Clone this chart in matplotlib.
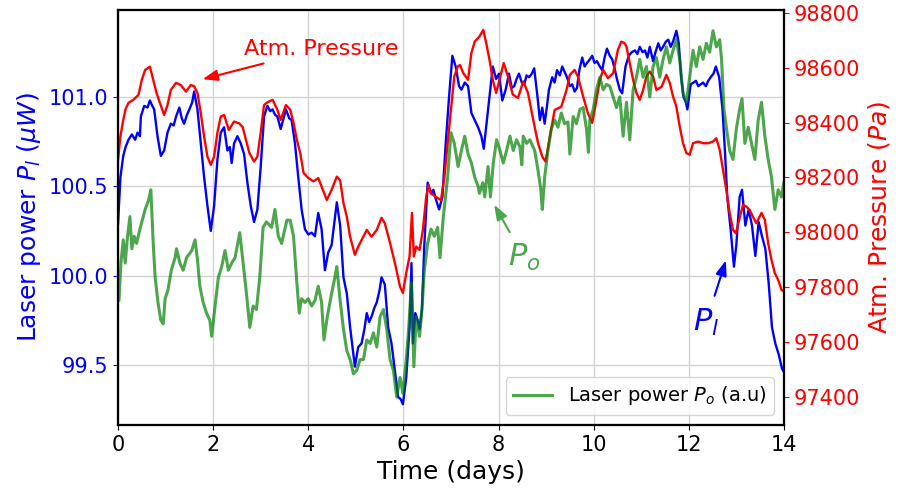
import numpy as np
import matplotlib
matplotlib.use("Agg")
import matplotlib.pyplot as plt

# laser power P_l (uW), left axis: (day, value)
p_l = [(0.00,100.29),(0.05,100.55),(0.11,100.67),(0.16,100.72),(0.22,100.76),(0.29,100.79),(0.36,100.76),(0.41,100.80),
       (0.46,100.78),(0.48,100.89),(0.55,100.95),(0.62,100.94),(0.67,100.98),(0.72,100.95),(0.76,100.93),(0.83,100.78),
       (0.90,100.67),(0.97,100.70),(1.04,100.80),(1.11,100.85),(1.17,100.84),(1.22,100.89),(1.29,100.94),(1.34,100.88),
       (1.39,100.85),(1.45,100.90),(1.50,100.93),(1.56,100.97),(1.60,101.03),(1.67,100.93),(1.74,100.74),(1.81,100.55),
       (1.88,100.39),(1.95,100.25),(2.02,100.39),(2.09,100.65),(2.16,100.80),(2.23,100.83),(2.30,100.70),(2.35,100.72),
       (2.39,100.63),(2.44,100.74),(2.51,100.78),(2.58,100.74),(2.65,100.68),(2.72,100.52),(2.79,100.39),(2.86,100.30),
       (2.93,100.37),(3.00,100.61),(3.07,100.89),(3.14,100.95),(3.20,100.92),(3.25,100.93),(3.30,100.90),(3.35,100.89),
       (3.42,100.82),(3.48,100.88),(3.53,100.93),(3.60,100.88),(3.65,100.87),(3.72,100.74),(3.79,100.55),(3.86,100.37),
       (3.93,100.26),(4.00,100.23),(4.07,100.24),(4.14,100.22),(4.21,100.35),(4.28,100.26),(4.35,100.03),(4.42,100.13),
       (4.49,100.17),(4.55,100.30),(4.60,100.41),(4.67,100.28),(4.74,99.99),(4.81,99.90),(4.88,99.71),(4.98,99.49),
       (5.05,99.60),(5.12,99.62),(5.18,99.70),(5.23,99.79),(5.28,99.74),(5.33,99.77),(5.39,99.82),(5.44,99.85),
       (5.50,99.92),(5.54,99.99),(5.61,99.95),(5.68,99.71),(5.75,99.62),(5.82,99.47),(5.89,99.32),(5.94,99.31),
       (5.99,99.28),(6.06,99.43),(6.13,99.71),(6.17,100.07),(6.20,99.62),(6.25,99.79),(6.30,99.75),(6.34,99.70),
       (6.39,99.81),(6.44,100.17),(6.51,100.52),(6.58,100.46),(6.63,100.48),(6.68,100.43),(6.75,100.37),(6.82,100.44),
       (6.89,100.74),(6.96,101.00),(7.03,101.23),(7.10,101.17),(7.17,101.06),(7.22,101.04),(7.29,101.08),(7.36,101.06),
       (7.43,100.91),(7.50,100.87),(7.57,100.83),(7.64,100.78),(7.69,100.71),(7.74,100.83),(7.81,101.00),(7.88,101.17),
       (7.95,101.10),(8.01,101.13),(8.08,100.98),(8.15,101.04),(8.22,101.13),(8.28,101.05),(8.33,101.06),(8.38,101.10),
       (8.43,101.13),(8.49,101.08),(8.54,101.07),(8.59,101.12),(8.64,101.11),(8.70,101.13),(8.75,101.16),(8.82,101.00),
       (8.87,100.87),(8.92,100.94),(8.97,100.85),(9.02,100.95),(9.06,101.04),(9.13,101.11),(9.18,101.08),(9.23,101.15),
       (9.29,101.12),(9.34,101.17),(9.39,101.14),(9.44,101.11),(9.50,101.06),(9.55,101.07),(9.60,101.03),(9.65,101.05),
       (9.70,101.15),(9.76,101.22),(9.81,101.17),(9.86,101.19),(9.92,101.21),(9.97,101.23),(10.02,101.19),(10.07,101.20),
       (10.13,101.17),(10.18,101.15),(10.23,101.22),(10.28,101.27),(10.34,101.23),(10.39,101.21),(10.44,101.16),(10.49,101.10),
       (10.55,101.04),(10.60,101.02),(10.67,101.17),(10.74,101.23),(10.80,101.25),(10.87,101.26),(10.92,101.24),(10.97,101.28),
       (11.03,101.25),(11.08,101.26),(11.13,101.22),(11.18,101.28),(11.25,101.20),(11.30,101.25),(11.36,101.30),(11.41,101.26),
       (11.46,101.28),(11.52,101.31),(11.57,101.32),(11.62,101.28),(11.67,101.31),(11.74,101.37),(11.79,101.30),(11.84,101.11),
       (11.89,101.00),(11.94,100.97),(11.97,100.93),(12.04,101.07),(12.10,101.08),(12.15,101.09),(12.20,101.06),(12.25,101.07),
       (12.30,101.08),(12.36,101.06),(12.41,101.09),(12.46,101.11),(12.52,101.13),(12.57,101.17),(12.64,101.11),(12.71,100.93),
       (12.76,100.70),(12.81,100.44),(12.88,100.26),(12.95,100.05),(13.00,100.17),(13.07,100.44),(13.12,100.48),(13.19,100.28),
       (13.26,100.37),(13.33,100.28),(13.40,100.11),(13.47,100.30),(13.54,100.22),(13.61,100.15),(13.68,99.96),(13.75,99.71),
       (13.82,99.62),(13.89,99.56),(13.96,99.48),(14.00,99.46)]

# atmospheric pressure (Pa), right axis
pressure = [(0.00,98264),(0.05,98350),(0.11,98410),(0.16,98450),(0.22,98472),(0.32,98483),(0.43,98501),(0.50,98556),
            (0.57,98592),(0.67,98604),(0.74,98556),(0.81,98508),(0.88,98472),(0.97,98428),(1.04,98464),(1.11,98519),
            (1.22,98545),(1.32,98537),(1.43,98513),(1.53,98537),(1.60,98533),(1.67,98508),(1.74,98435),(1.81,98349),
            (1.88,98276),(1.95,98246),(2.02,98276),(2.09,98364),(2.16,98422),(2.23,98428),(2.33,98373),(2.44,98404),
            (2.55,98397),(2.62,98384),(2.69,98337),(2.76,98290),(2.86,98258),(2.93,98276),(3.00,98364),(3.07,98464),
            (3.14,98474),(3.25,98483),(3.35,98447),(3.42,98410),(3.53,98464),(3.62,98447),(3.69,98399),(3.76,98337),
            (3.83,98290),(3.90,98217),(4.00,98198),(4.11,98186),(4.21,98198),(4.28,98167),(4.39,98118),(4.49,98155),
            (4.60,98203),(4.67,98190),(4.74,98107),(4.81,98057),(4.88,97984),(4.98,97918),(5.05,97948),(5.12,97972),
            (5.23,98009),(5.33,97984),(5.44,98009),(5.54,98053),(5.61,98033),(5.72,97961),(5.82,97889),(5.93,97802),
            (5.99,97779),(6.06,97852),(6.13,97913),(6.18,98071),(6.22,97912),(6.27,97948),(6.34,97936),(6.41,98009),
            (6.48,98130),(6.53,98172),(6.58,98142),(6.68,98130),(6.79,98117),(6.86,98198),(6.93,98326),(7.00,98446),
            (7.07,98568),(7.14,98604),(7.19,98610),(7.26,98580),(7.36,98556),(7.43,98654),(7.50,98695),(7.60,98714),
            (7.68,98738),(7.75,98683),(7.81,98629),(7.88,98556),(7.95,98508),(8.02,98556),(8.11,98617),(8.20,98568),
            (8.30,98502),(8.41,98490),(8.52,98550),(8.62,98508),(8.73,98410),(8.83,98326),(8.92,98276),(8.99,98258),
            (9.08,98349),(9.18,98446),(9.32,98458),(9.43,98519),(9.50,98574),(9.60,98592),(9.67,98568),(9.78,98495),
            (9.88,98434),(9.97,98399),(10.06,98483),(10.13,98556),(10.20,98592),(10.30,98562),(10.41,98580),(10.51,98665),
            (10.58,98695),(10.65,98690),(10.69,98677),(10.76,98617),(10.83,98556),(10.90,98508),(10.97,98483),(11.04,98519),
            (11.11,98568),(11.18,98586),(11.25,98568),(11.32,98519),(11.43,98531),(11.53,98574),(11.60,98545),(11.67,98495),
            (11.74,98458),(11.81,98386),(11.88,98325),(11.95,98289),(12.02,98283),(12.09,98325),(12.20,98331),(12.30,98325),
            (12.41,98325),(12.51,98331),(12.58,98343),(12.65,98301),(12.72,98228),(12.79,98155),(12.86,98071),(12.93,98009),
            (12.99,97997),(13.06,98045),(13.14,98100),(13.21,98094),(13.28,98082),(13.35,98057),(13.42,98033),(13.53,98071),
            (13.60,98045),(13.67,97960),(13.74,97900),(13.81,97851),(13.88,97827),(13.95,97790),(14.00,97785)]

# laser power P_o (a.u), drawn on the left scale
p_o = [(0.00,99.86),(0.02,99.86),(0.06,100.07),(0.11,100.20),(0.15,100.07),(0.20,100.22),(0.25,100.33),(0.29,100.15),
       (0.34,100.22),(0.39,100.18),(0.46,100.26),(0.50,100.30),(0.57,100.37),(0.64,100.42),(0.69,100.48),(0.74,100.18),
       (0.78,99.99),(0.84,99.85),(0.90,99.75),(0.95,99.73),(0.99,99.87),(1.05,99.92),(1.12,100.03),(1.20,100.10),
       (1.23,100.15),(1.30,100.07),(1.37,100.03),(1.44,100.10),(1.55,100.14),(1.62,100.20),(1.67,100.09),(1.72,99.94),
       (1.79,99.85),(1.86,99.79),(1.93,99.75),(1.97,99.66),(2.04,99.83),(2.11,99.99),(2.18,100.05),(2.25,100.14),
       (2.32,100.03),(2.39,100.07),(2.46,100.10),(2.56,100.24),(2.63,100.07),(2.70,99.90),(2.77,99.71),(2.84,99.83),
       (2.91,99.81),(2.98,99.99),(3.05,100.27),(3.12,100.30),(3.23,100.27),(3.30,100.37),(3.37,100.22),(3.44,100.18),
       (3.55,100.31),(3.62,100.31),(3.69,100.22),(3.76,99.96),(3.81,99.79),(3.86,99.87),(3.93,99.85),(4.00,99.87),
       (4.07,99.83),(4.14,99.86),(4.21,99.94),(4.28,99.85),(4.33,99.64),(4.40,99.77),(4.49,99.90),(4.56,99.99),
       (4.60,100.05),(4.67,99.86),(4.74,99.70),(4.81,99.58),(4.88,99.53),(4.95,99.45),(5.02,99.47),(5.09,99.53),
       (5.16,99.53),(5.23,99.64),(5.30,99.62),(5.37,99.68),(5.44,99.60),(5.51,99.77),(5.58,99.81),(5.65,99.70),
       (5.72,99.53),(5.79,99.47),(5.86,99.32),(5.93,99.43),(5.99,99.34),(6.06,99.53),(6.11,99.70),(6.17,99.96),
       (6.22,99.49),(6.27,99.77),(6.34,99.66),(6.39,99.81),(6.44,100.03),(6.51,100.18),(6.58,100.26),(6.65,100.22),
       (6.72,100.27),(6.77,100.10),(6.84,100.33),(6.93,100.55),(7.00,100.80),(7.07,100.74),(7.15,100.61),(7.22,100.70),
       (7.29,100.78),(7.36,100.68),(7.43,100.63),(7.50,100.55),(7.57,100.50),(7.60,100.46),(7.67,100.52),(7.71,100.44),
       (7.78,100.61),(7.83,100.44),(7.89,100.63),(7.96,100.76),(8.03,100.70),(8.10,100.63),(8.17,100.70),(8.24,100.78),
       (8.31,100.70),(8.38,100.76),(8.45,100.72),(8.49,100.62),(8.52,100.78),(8.59,100.74),(8.66,100.76),(8.76,100.70),
       (8.83,100.59),(8.89,100.48),(8.92,100.37),(8.97,100.55),(9.04,100.70),(9.11,100.82),(9.18,100.87),(9.25,100.83),
       (9.32,100.91),(9.39,100.85),(9.46,100.86),(9.50,100.68),(9.57,100.89),(9.64,100.85),(9.71,100.93),(9.78,100.94),
       (9.85,100.82),(9.89,100.69),(9.92,100.87),(9.99,100.93),(10.06,101.04),(10.13,101.11),(10.20,101.04),(10.27,101.07),
       (10.34,101.06),(10.41,101.00),(10.48,100.94),(10.55,101.00),(10.62,100.78),(10.69,100.97),(10.76,100.76),(10.83,101.04),
       (10.90,101.11),(10.97,101.21),(11.04,101.11),(11.11,101.17),(11.18,101.00),(11.25,101.17),(11.32,101.22),(11.39,101.11),
       (11.46,101.21),(11.53,101.28),(11.60,101.19),(11.67,101.26),(11.74,101.32),(11.81,101.21),(11.88,101.02),(11.95,100.97),
       (12.02,101.11),(12.09,101.26),(12.16,101.17),(12.23,101.28),(12.30,101.21),(12.37,101.30),(12.44,101.25),(12.51,101.37),
       (12.58,101.28),(12.65,101.32),(12.69,101.21),(12.74,100.93),(12.79,100.83),(12.86,100.70),(12.93,100.65),(13.00,100.82),
       (13.07,100.93),(13.12,100.99),(13.18,100.74),(13.25,100.83),(13.32,100.74),(13.39,100.65),(13.46,100.87),(13.53,100.97),
       (13.60,100.78),(13.67,100.65),(13.74,100.55),(13.81,100.37),(13.88,100.48),(13.95,100.44),(14.00,100.52)]

left_ticks = [99.5, 100.0, 100.5, 101.0]
right_ticks = [97400, 97600, 97800, 98000, 98200, 98400, 98600, 98800]

t_l, v_l = np.array(p_l).T
t_p, v_p = np.array(pressure).T
t_o, v_o = np.array(p_o).T

fig = plt.figure(figsize=(9.01, 4.93), dpi=100)
ax1 = fig.add_axes([0.131, 0.138, 0.739, 0.842])
ax1.plot(t_l, v_l, color='blue', lw=1.7)
ax1.set_xlim(0, 14)
ax1.set_ylim(99.164, 101.487)
ax1.set_yticks(left_ticks)
ax1.set_xticks(range(0, 15, 2))
ax1.grid(True, color='#d3d3d3', lw=1)
ax1.set_axisbelow(True)
ax1.tick_params(labelsize=15)
ax1.tick_params(axis='y', colors='blue')
ax1.set_xlabel('Time (days)', fontsize=18)
ax1.set_ylabel(r'Laser power $P_l$ ($\mu W$)', fontsize=18, color='blue')

ax2 = ax1.twinx()
ax2.plot(t_p, v_p, color='red', lw=1.7)
ax2.set_ylim(97298, 98811)
ax2.set_yticks(right_ticks)
ax2.tick_params(labelsize=15, colors='red')
ax2.set_ylabel(r'Atm. Pressure ($Pa$)', fontsize=18, color='red')

ax3 = ax1.twinx()
ax3.plot(t_o, v_o, color='green', lw=2.2, alpha=0.7, label=r'Laser power $P_o$ (a.u)')
ax3.set_ylim(ax1.get_ylim())
ax3.set_yticks([])
ax3.legend(loc='lower right', fontsize=14)

for ax in (ax1, ax2, ax3):
    for s in ax.spines.values():
        s.set_linewidth(1.5)

arrow = '-|>,head_length=0.6,head_width=0.22'
ax3.annotate('Atm. Pressure', xy=(1.72, 101.095), xytext=(2.65, 101.27), color='red', fontsize=16,
             va='center', arrowprops=dict(arrowstyle=arrow, color='red', lw=1.5, mutation_scale=15, shrinkA=6))
ax3.annotate(r'$P_o$', xy=(7.88, 100.41), xytext=(8.2, 100.10), color='#4ca64c', fontsize=22,
             va='center', arrowprops=dict(arrowstyle=arrow, color='#4ca64c', lw=1.5, mutation_scale=15, shrinkA=6))
ax3.annotate(r'$P_l$', xy=(12.80, 100.10), xytext=(12.09, 99.74), color='blue', fontsize=22,
             va='center', arrowprops=dict(arrowstyle=arrow, color='blue', lw=1.5, mutation_scale=15, shrinkA=6))

fig.savefig('out.png', dpi=100)
